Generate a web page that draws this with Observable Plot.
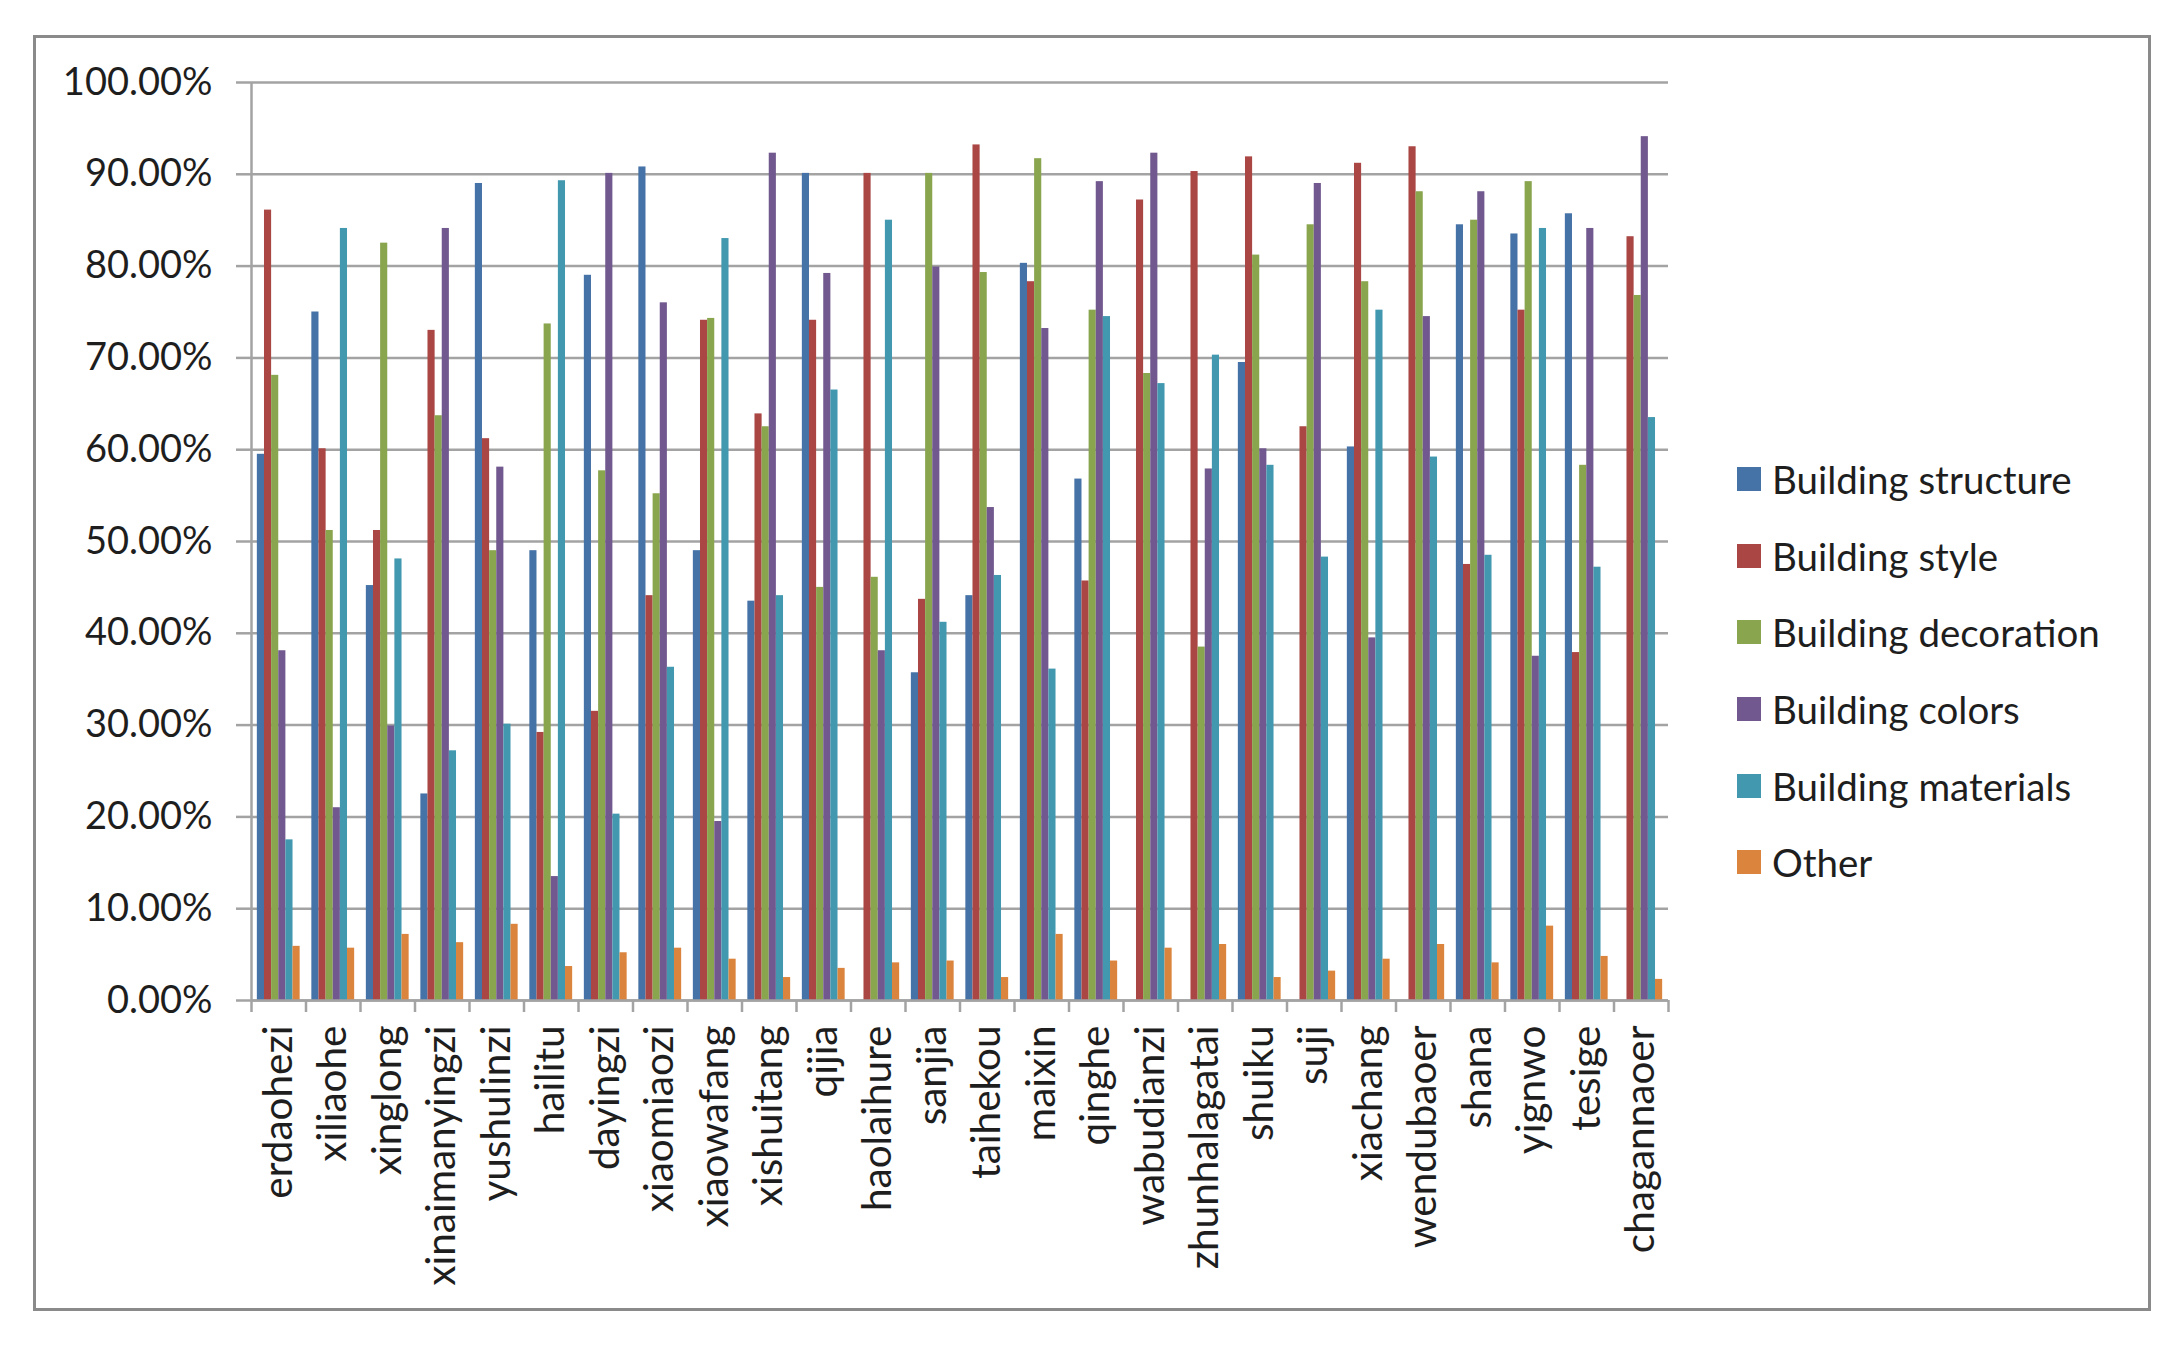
<!DOCTYPE html>
<html>
<head>
<meta charset="utf-8">
<script src="https://cdn.jsdelivr.net/npm/d3@7"></script>
<script src="https://cdn.jsdelivr.net/npm/@observablehq/plot@0.6"></script>
<style>
  html, body { margin: 0; padding: 0; background: #fff; }
  #wrap { position: relative; width: 2183px; height: 1353px; overflow: hidden; }
  #frame { position: absolute; left: 33px; top: 35px; width: 2118px; height: 1276px; border: 3px solid #8a8a8a; box-sizing: border-box; pointer-events: none; }
  #chart { position: absolute; left: 0; top: 0; }
  #legend { position: absolute; left: 1737px; top: 441px; font-family: Lato, "Open Sans", sans-serif; font-size: 38.5px; color: #1e1e1e; }
  #legend .row { display: flex; align-items: center; height: 76.6px; }
  #legend .sw { width: 24px; height: 24px; margin-right: 11px; flex: none; }
</style>
</head>
<body>
<div id="wrap">
  <div id="chart"></div>
  <div id="frame"></div>
  <div id="legend"></div>
</div>
<script>
// ---- Data (percent values) ----
const categories = ["erdaohezi","xiliaohe","xinglong","xinaimanyingzi","yushulinzi","hailitu","dayingzi","xiaomiaozi","xiaowafang","xishuitang","qijia","haolaihure","sanjia","taihekou","maixin","qinghe","wabudianzi","zhunhalagatai","shuiku","suji","xiachang","wendubaoer","shana","yignwo","tesige","chagannaoer"];

const seriesNames = ["Building structure","Building style","Building decoration","Building colors","Building materials","Other"];

const buildingStructure  = [59.5, 75.0, 45.2, 22.5, 89.0, 49.0, 79.0, 90.8, 49.0, 43.5, 90.1, null, 35.7, 44.1, 80.3, 56.8, null, null, 69.5, null, 60.3, null, 84.5, 83.5, 85.7, null];
const buildingStyle      = [86.1, 60.1, 51.2, 73.0, 61.2, 29.2, 31.5, 44.1, 74.1, 63.9, 74.1, 90.1, 43.7, 93.2, 78.3, 45.7, 87.2, 90.3, 91.9, 62.5, 91.2, 93.0, 47.5, 75.2, 37.9, 83.2];
const buildingDecoration = [68.1, 51.2, 82.5, 63.7, 49.0, 73.7, 57.7, 55.2, 74.3, 62.5, 45.0, 46.1, 90.1, 79.3, 91.7, 75.2, 68.3, 38.5, 81.2, 84.5, 78.3, 88.1, 85.0, 89.2, 58.3, 76.8];
const buildingColors     = [38.1, 21.0, 29.9, 84.1, 58.1, 13.5, 90.1, 76.0, 19.5, 92.3, 79.2, 38.1, 79.9, 53.7, 73.2, 89.2, 92.3, 57.9, 60.1, 89.0, 39.5, 74.5, 88.1, 37.5, 84.1, 94.1];
const buildingMaterials  = [17.5, 84.1, 48.1, 27.2, 30.1, 89.3, 20.3, 36.3, 83.0, 44.1, 66.5, 85.0, 41.2, 46.3, 36.1, 74.5, 67.2, 70.3, 58.3, 48.3, 75.2, 59.2, 48.5, 84.1, 47.2, 63.5];
const other              = [5.9, 5.7, 7.2, 6.3, 8.3, 3.7, 5.2, 5.7, 4.5, 2.5, 3.5, 4.1, 4.3, 2.5, 7.2, 4.3, 5.7, 6.1, 2.5, 3.2, 4.5, 6.1, 4.1, 8.1, 4.8, 2.3];

const yTicks = [0, 10, 20, 30, 40, 50, 60, 70, 80, 90, 100];

const seriesValues = [buildingStructure, buildingStyle, buildingDecoration, buildingColors, buildingMaterials, other];
const colors = ["#4572A7", "#AA4643", "#89A54E", "#71588F", "#4198AF", "#DB843D"];

// ---- Build table ----
// inner band positions a bar within its category slot [i, i+1]
const inner = d3.scaleBand().domain(seriesNames).range([0, 1]).paddingInner(0).paddingOuter(0.82);
const rows = [];
categories.forEach((c, i) => {
  seriesNames.forEach((s, j) => {
    const v = seriesValues[j][i];
    if (v != null) rows.push({cat: c, idx: i, series: s, value: v});
  });
});

const W = 2183, H = 1353;
const gridColor = "#a3a3a3";

const chart = Plot.plot({
  width: W,
  height: H,
  marginLeft: 251,
  marginRight: W - 1668,
  marginTop: 82,
  marginBottom: H - 1000,
  style: {fontFamily: "Lato, 'Open Sans', sans-serif", fontSize: "38px", color: "#1e1e1e", background: "transparent"},
  x: {domain: [0, categories.length], axis: null},
  y: {domain: [0, 100], axis: null},
  color: {domain: seriesNames, range: colors},
  marks: [
    Plot.gridY(yTicks, {stroke: gridColor, strokeOpacity: 1, strokeWidth: 2.5}),
    Plot.axisY(yTicks, {
      tickSize: 15, tickPadding: 24, stroke: gridColor, strokeWidth: 2.5, fill: "#1e1e1e",
      tickFormat: d => d.toFixed(2) + "%", fontSize: 38, label: null
    }),
    Plot.rectY(rows, {
      x1: d => d.idx + inner(d.series),
      x2: d => d.idx + inner(d.series) + inner.bandwidth(),
      y: "value",
      fill: "series"
    }),
    Plot.ruleX([0], {stroke: gridColor, strokeWidth: 2.5}),
    Plot.ruleY([0], {stroke: gridColor, strokeWidth: 2.5}),
    Plot.axisX(d3.range(0, categories.length + 1), {
      tickSize: 12, stroke: gridColor, strokeWidth: 2.5, tickFormat: () => "", label: null
    }),
    Plot.text(categories, {
      x: (d, i) => i + 0.5,
      y: 0,
      text: d => d,
      rotate: -90,
      textAnchor: "end",
      dy: 25,
      fontSize: 40.5,
      fill: "#1e1e1e"
    })
  ]
});
document.getElementById("chart").appendChild(chart);

// ---- Legend ----
const legend = document.getElementById("legend");
seriesNames.forEach((s, j) => {
  const row = document.createElement("div");
  row.className = "row";
  const sw = document.createElement("div");
  sw.className = "sw";
  sw.style.background = colors[j];
  const t = document.createElement("span");
  t.textContent = s;
  row.appendChild(sw);
  row.appendChild(t);
  legend.appendChild(row);
});
</script>
</body>
</html>
